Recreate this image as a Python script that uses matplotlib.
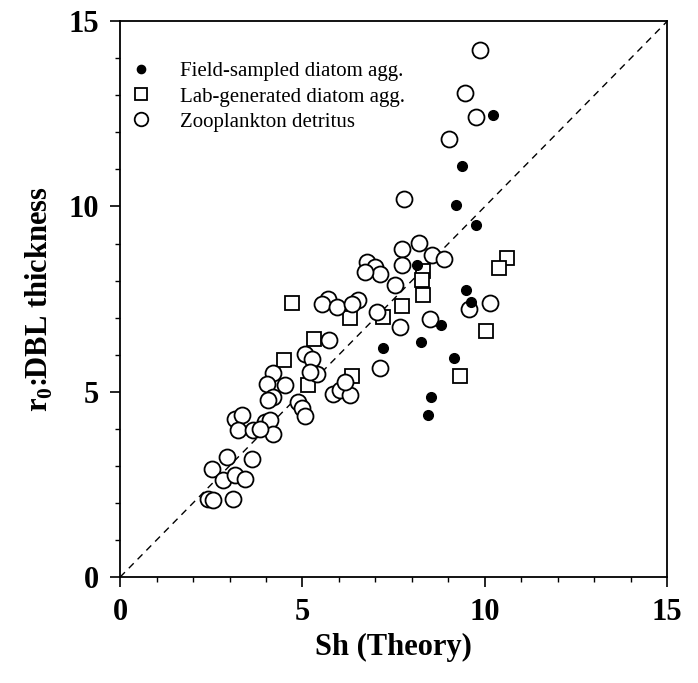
#!/usr/bin/env python3
# -*- coding: utf-8 -*-
"""
Sherwood number: observed r0:DBL thickness against theory
"""

import matplotlib
matplotlib.use('Agg')
import matplotlib.pyplot as plt
from matplotlib.ticker import MultipleLocator

plt.rcParams['font.family'] = ['Liberation Serif', 'DejaVu Serif']
plt.rcParams['mathtext.fontset'] = 'custom'
plt.rcParams['mathtext.rm'] = 'Liberation Serif'
plt.rcParams['mathtext.bf'] = 'Liberation Serif:bold'

# Field-sampled diatom aggregates
field_x = [10.23, 9.38, 9.22, 9.77, 8.15, 9.48, 9.61, 8.81, 8.26, 7.21,
           9.16, 8.51, 8.45]
field_y = [12.47, 11.10, 10.05, 9.49, 8.41, 7.75, 7.42, 6.81, 6.34, 6.19,
           5.92, 4.86, 4.37]

# Lab-generated diatom aggregates
lab_x = [4.70, 6.30, 5.32, 4.50, 5.16, 6.35, 7.21, 7.72, 8.31, 8.27,
         8.31, 10.62, 10.38, 10.03, 9.32]
lab_y = [7.39, 7.00, 6.43, 5.87, 5.18, 5.42, 7.02, 7.31, 8.26, 8.03,
         7.62, 8.61, 8.35, 6.64, 5.43]

# Zooplankton detritus
zoo_x = [9.88, 9.45, 9.77, 9.02, 7.78, 7.74, 8.19, 7.72, 8.54, 8.89,
         7.53, 10.14, 9.57, 8.49, 7.67, 7.12, 6.76, 6.99, 7.12, 6.71,
         5.71, 5.53, 5.94, 6.53, 6.35, 7.03, 5.73, 5.07, 5.25, 5.39,
         5.21, 4.20, 4.02, 4.52, 4.20, 4.06, 4.88, 4.98, 5.07, 5.84,
         6.03, 6.30, 6.16, 3.15, 3.33, 3.24, 3.65, 3.97, 4.11, 4.20,
         3.84, 2.92, 2.51, 3.61, 2.83, 3.15, 3.42, 2.42, 2.56, 3.10]
zoo_y = [14.22, 13.05, 12.41, 11.82, 10.19, 8.84, 9.01, 8.43, 8.68, 8.57,
         7.87, 7.40, 7.24, 6.97, 6.75, 5.65, 8.50, 8.36, 8.19, 8.23,
         7.51, 7.38, 7.29, 7.47, 7.38, 7.15, 6.41, 6.03, 5.89, 5.49,
         5.53, 5.51, 5.22, 5.18, 4.86, 4.77, 4.73, 4.55, 4.34, 4.95,
         5.04, 4.91, 5.26, 4.28, 4.37, 3.96, 3.96, 4.19, 4.23, 3.87,
         4.00, 3.24, 2.93, 3.20, 2.61, 2.75, 2.66, 2.12, 2.08, 2.10]

fig = plt.figure(figsize=(6.98, 6.83), dpi=100)
ax = fig.add_axes([0.172, 0.155, 0.784, 0.814])

# 1:1 line
ax.plot([0, 15], [0, 15], color='black', linestyle=(0, (5, 4)), linewidth=1.0,
        zorder=1)

ax.plot(field_x, field_y, 'o', color='black', markersize=7,
        label='Field-sampled diatom agg.', zorder=3)
ax.plot(lab_x, lab_y, 's', markerfacecolor='white', markeredgecolor='black',
        markeredgewidth=1.3, markersize=10.5,
        label='Lab-generated diatom agg.', zorder=2)
ax.plot(zoo_x, zoo_y, 'o', markerfacecolor='white', markeredgecolor='black',
        markeredgewidth=1.3, markersize=11.5,
        label='Zooplankton detritus', zorder=2)

ax.set_xlim(0, 15)
ax.set_ylim(0, 15)
ax.xaxis.set_major_locator(MultipleLocator(5))
ax.yaxis.set_major_locator(MultipleLocator(5))
ax.xaxis.set_minor_locator(MultipleLocator(1))
ax.yaxis.set_minor_locator(MultipleLocator(1))
ax.tick_params(which='major', direction='out', length=7, width=1.2,
               labelsize=22, pad=8)
ax.tick_params(which='minor', direction='out', length=3.5, width=1.0)
for lab in ax.get_xticklabels() + ax.get_yticklabels():
    lab.set_fontweight('bold')
for sp in ax.spines.values():
    sp.set_linewidth(1.3)

ax.set_xlabel('Sh (Theory)', fontsize=22, fontweight='bold', labelpad=4)
ax.set_ylabel(r'r$_\mathbf{0}$:DBL thickness', fontsize=22,
              fontweight='bold', labelpad=10)

ax.legend(loc='upper left', frameon=False, fontsize=15, handletextpad=0.88,
          borderaxespad=0, borderpad=0, labelspacing=0.27, markerscale=0.85,
          bbox_to_anchor=(0.0, 0.927))

plt.savefig('out.png', dpi=100)
